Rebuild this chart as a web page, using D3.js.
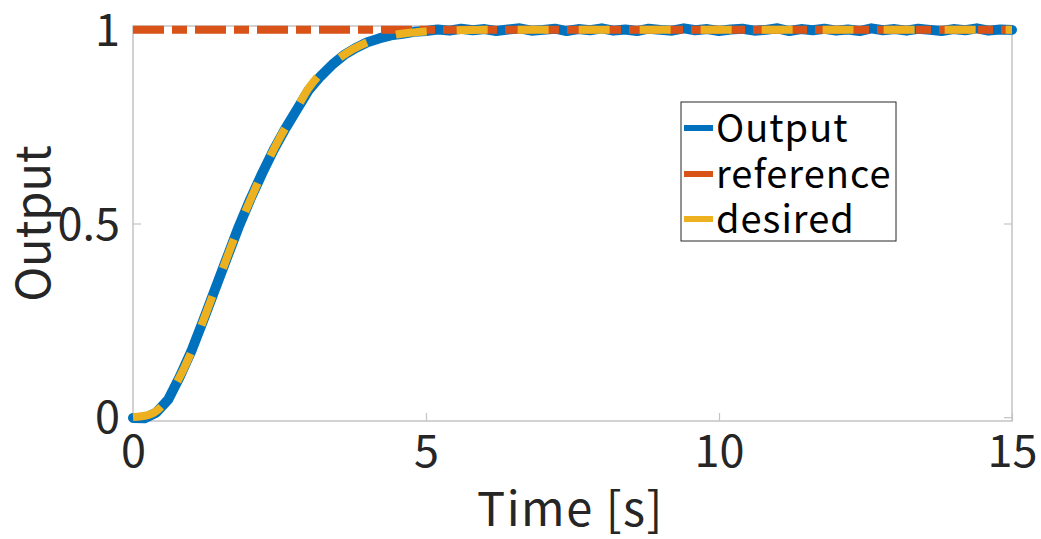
<!DOCTYPE html>
<html><head><meta charset="utf-8">
<script src="https://cdn.jsdelivr.net/npm/d3@7"></script>
<style>body{margin:0;background:#fff}svg{display:block}</style>
</head><body><svg id="c" width="1041" height="539"></svg>
<script>
const xTicks = [0, 5, 10, 15];
const yTicks = [0, 0.5, 1];
const yTickLabels = ["0", "0.5", "1"];
const seriesNames = ["Output", "reference", "desired"];
const seriesColors = ["#0072BD", "#D95319", "#EDB120"];

// Output (measured, noisy) sampled every 0.2 s from 0 to 15
const outputTime = d3.range(0, 15.0001, 0.2);
const outputValues = [
  -0.002, -0.003, 0.012, 0.045, 0.105, 0.172, 0.250, 0.330, 0.410, 0.490,
  0.562, 0.628, 0.690, 0.745, 0.795, 0.845, 0.880, 0.910, 0.935, 0.953,
  0.968, 0.978, 0.986, 0.990, 0.995, 0.997, 1.001, 0.998, 1.003, 0.999,
  1.002, 0.997, 1.001, 1.004, 0.998, 1.000, 1.003, 0.997, 1.002, 0.999,
  1.004, 0.998, 1.001, 0.997, 1.003, 1.000, 0.998, 1.004, 0.999, 1.002,
  0.997, 1.001, 1.003, 0.998, 1.000, 1.004, 0.997, 1.002, 0.999, 1.003,
  0.998, 1.001, 0.997, 1.004, 0.999, 1.002, 0.998, 1.003, 1.000, 0.997,
  1.002, 0.999, 1.004, 0.998, 1.001, 1.000
];

// Reference step
const referenceTime = [0, 15];
const referenceValues = [1, 1];

// Desired trajectory
const desiredTime = [0, 0.25, 0.5, 0.75, 1.0, 1.25, 1.5, 1.75, 2.0, 2.25, 2.5, 2.75, 3.0, 3.25, 3.5, 3.75, 4.0, 4.25, 4.5, 4.75, 5.0, 5.5, 6.0, 15];
const desiredValues = [0, 0.005, 0.03, 0.09, 0.17, 0.27, 0.37, 0.47, 0.56, 0.645, 0.72, 0.785, 0.85, 0.895, 0.925, 0.95, 0.968, 0.98, 0.988, 0.993, 0.996, 0.999, 1.0, 1.0];

const svg = d3.select("#c");
const L = 133, R = 1012, T = 26, B = 421;
const x = d3.scaleLinear().domain([0, 15]).range([L, R]);
const y = d3.scaleLinear().domain([-0.01, 1.01]).range([B, T]);
const font = "'Noto Sans CJK JP', 'Noto Sans', sans-serif";
const axisCol = "#c4c4c4";
const textCol = "#262626";

// axes box
svg.append("rect").attr("x", L).attr("y", T).attr("width", R - L).attr("height", B - T)
  .attr("fill", "none").attr("stroke", axisCol).attr("stroke-width", 1.5);

// ticks (inward, mirrored)
const xb = d3.axisBottom(x).tickValues(xTicks).tickSize(-8).tickFormat(d => d);
const gx = svg.append("g").attr("transform", `translate(0,${B})`).call(xb);
gx.select(".domain").remove();
gx.selectAll("line").attr("stroke", axisCol).attr("stroke-width", 1.2);
gx.selectAll("text").attr("fill", textCol).attr("font-family", font).attr("font-size", 45)
  .attr("y", 14).attr("dy", "0.71em");
const xt = d3.axisTop(x).tickValues(xTicks).tickSize(-8).tickFormat("");
const gxt = svg.append("g").attr("transform", `translate(0,${T})`).call(xt);
gxt.select(".domain").remove();
gxt.selectAll("line").attr("stroke", axisCol).attr("stroke-width", 1.2);

const yl = d3.axisLeft(y).tickValues(yTicks).tickSize(-8).tickFormat((d, i) => yTickLabels[i]);
const gy = svg.append("g").attr("transform", `translate(${L},0)`).call(yl);
gy.select(".domain").remove();
gy.selectAll("line").attr("stroke", axisCol).attr("stroke-width", 1.2);
gy.selectAll("text").attr("fill", textCol).attr("font-family", font).attr("font-size", 45)
  .attr("x", -13).attr("dy", "0.35em");
const yr = d3.axisRight(y).tickValues(yTicks).tickSize(-8).tickFormat("");
const gyr = svg.append("g").attr("transform", `translate(${R},0)`).call(yr);
gyr.select(".domain").remove();
gyr.selectAll("line").attr("stroke", axisCol).attr("stroke-width", 1.2);

// axis labels
svg.append("text").attr("x", (L + R) / 2 - 2).attr("y", 526).attr("text-anchor", "middle")
  .attr("font-family", font).attr("font-size", 47).attr("letter-spacing", 1.5).attr("fill", textCol).text("Time [s]");
svg.append("text").attr("transform", `translate(50,${(T + B) / 2}) rotate(-90)`).attr("text-anchor", "middle")
  .attr("font-family", font).attr("font-size", 47).attr("fill", textCol).text("Output");

// lines
const line = d3.line().x(d => x(d[0])).y(d => y(d[1]));
const plot = svg.append("g");
plot.append("path").datum(outputTime.map((t, i) => [t, outputValues[i]]))
  .attr("d", line).attr("fill", "none").attr("stroke", seriesColors[0])
  .attr("stroke-width", 10).attr("stroke-linejoin", "round").attr("stroke-linecap", "round");
plot.append("path").datum(referenceTime.map((t, i) => [t, referenceValues[i]]))
  .attr("d", line).attr("fill", "none").attr("stroke", seriesColors[1])
  .attr("stroke-width", 8).attr("stroke-dasharray", "31,8,15,8");
plot.append("path").datum(desiredTime.map((t, i) => [t, desiredValues[i]]))
  .attr("d", d3.line().x(d => x(d[0])).y(d => y(d[1])).curve(d3.curveMonotoneX)).attr("fill", "none").attr("stroke", seriesColors[2])
  .attr("stroke-width", 8).attr("stroke-dasharray", "31,30");

// legend
const lg = svg.append("g");
lg.append("rect").attr("x", 681).attr("y", 102).attr("width", 215).attr("height", 139)
  .attr("fill", "#fff").attr("stroke", "#262626").attr("stroke-width", 1);
const rowsY = [128, 174, 219];
seriesNames.forEach((n, i) => {
  lg.append("line").attr("x1", 684).attr("x2", 713).attr("y1", rowsY[i]).attr("y2", rowsY[i])
    .attr("stroke", seriesColors[i]).attr("stroke-width", 6);
  lg.append("text").attr("x", 716).attr("y", rowsY[i]).attr("dy", "0.36em")
    .attr("font-family", font).attr("font-size", 38).attr("letter-spacing", 1).attr("fill", "#000").text(n);
});
</script></body></html>
